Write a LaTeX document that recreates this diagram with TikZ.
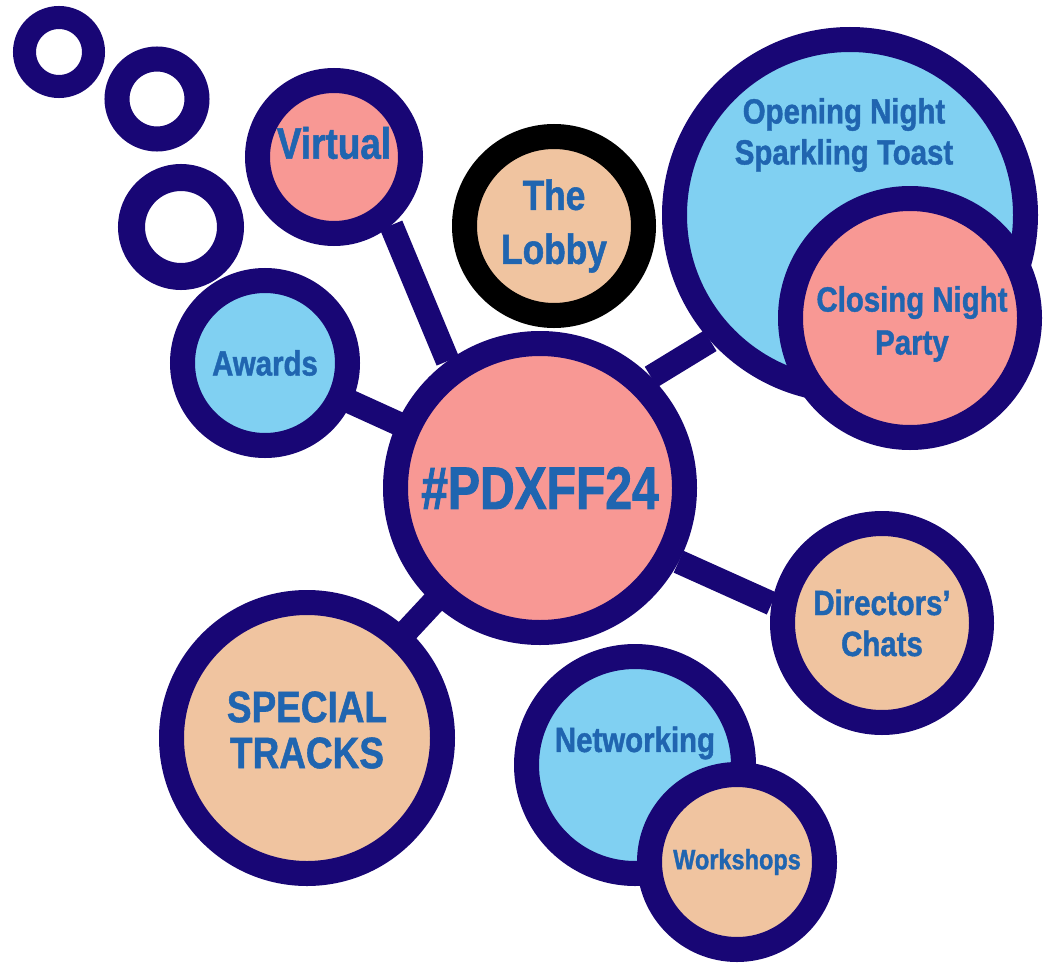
\documentclass[tikz,border=0pt]{standalone}
\usepackage{fontspec}
\setmainfont{Liberation Sans}[FakeStretch=0.84, BoldFeatures={FakeBold=1.2}]
\newfontfamily\pdxfont{Liberation Sans}[FakeStretch=0.8, BoldFeatures={FakeBold=1.5}]
\definecolor{bubbleNavy}{RGB}{24, 6, 117}
\definecolor{bubblePink}{RGB}{248, 152, 148}
\definecolor{bubbleSky}{RGB}{128, 208, 242}
\definecolor{bubbleTan}{RGB}{240, 196, 160}
\definecolor{labelBlue}{RGB}{32, 101, 176}
\usetikzlibrary{backgrounds}

\begin{document}
\begin{tikzpicture}[x=1pt, y=-1pt,
    bubble/.style={circle, draw=bubbleNavy, line width=25pt, inner sep=0pt, text=labelBlue, align=center},
    bubbletext/.style={text=labelBlue, align=center, inner sep=0pt},
    ring/.style={circle, draw=bubbleNavy, inner sep=0pt},
    link/.style={draw=bubbleNavy, line width=24pt}]
    \useasboundingbox (0,0) rectangle (1047,966);

    % little rings top left
    \node[ring, line width=23pt, minimum size=69pt] (ringA) at (59,52) {};
    \node[ring, line width=25pt, minimum size=80pt] (ringB) at (157,99) {};
    \node[ring, line width=27pt, minimum size=99pt] (ringC) at (181,227) {};

    % bubbles
    \node[bubble, fill=bubblePink, minimum size=289pt, font=\pdxfont\bfseries\fontsize{60}{60}\selectfont] (pdx) at (540,488) {\#PDXFF24};

    \node[bubble, fill=bubblePink, minimum size=153pt] (virtual) at (334,157) {};
    \node[bubbletext, font=\bfseries\fontsize{44}{50}\selectfont] (virtualtext) at ([yshift=14pt]virtual.center) {Virtual};

    \node[bubble, draw=black, fill=bubbleTan, minimum size=179pt, font=\bfseries\fontsize{42}{54}\selectfont] (lobby) at (554,226) {The\\Lobby};

    \node[bubble, fill=bubbleSky, minimum size=165pt, font=\bfseries\fontsize{35}{40}\selectfont] (awards) at (265,363) {Awards};

    \node[bubble, fill=bubbleSky, minimum size=351pt] (opening) at (850,215) {};
    \node[bubbletext, font=\bfseries\fontsize{35}{41}\selectfont] (openingtext) at ([xshift=-6pt, yshift=80pt]opening.center) {Opening Night\\Sparkling Toast};
    \node[bubble, fill=bubblePink, minimum size=239pt] (closing) at (910,318) {};
    \node[bubbletext, font=\bfseries\fontsize{35}{43}\selectfont] (closingtext) at ([xshift=2pt, yshift=-6pt]closing.center) {Closing Night\\Party};

    \node[bubble, fill=bubbleTan, minimum size=199pt, font=\bfseries\fontsize{35}{41}\selectfont] (directors) at (882,623) {Directors'\\Chats};

    \node[bubble, fill=bubbleTan, minimum size=271pt] (special) at (307,738) {};
    \node[bubbletext, font=\bfseries\fontsize{44}{46}\selectfont] (specialtext) at ([yshift=8pt]special.center) {SPECIAL\\TRACKS};

    \node[bubble, fill=bubbleSky, minimum size=217pt] (networking) at (635,765) {};
    \node[bubbletext, font=\bfseries\fontsize{35}{40}\selectfont] (networkingtext) at ([yshift=22pt]networking.center) {Networking};
    \node[bubble, fill=bubbleTan, minimum size=175pt, font=\bfseries\fontsize{28}{30}\selectfont] (workshops) at (737,862) {Workshops};

    % links behind the bubbles
    \begin{scope}[on background layer]
        \draw[link] (virtual.-50) -- (pdx.126);
        \draw[link] (pdx.center) -- (awards.center);
        \draw[link] (pdx.45) -- (opening.222);
        \draw[link] (pdx.-28) -- (directors.170);
        \draw[link] (pdx.center) -- (special.center);
    \end{scope}
\end{tikzpicture}
\end{document}
